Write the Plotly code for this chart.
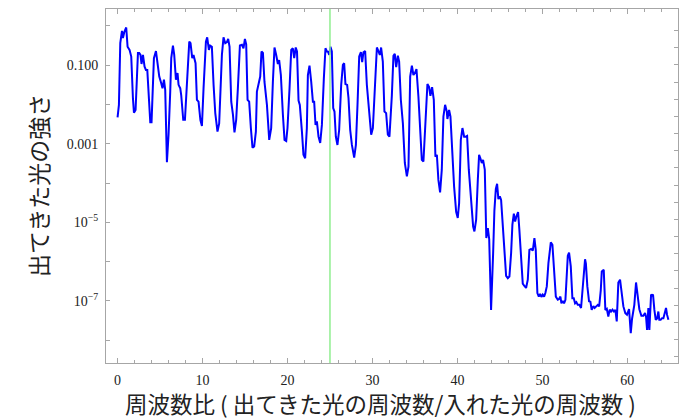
import numpy as np
import plotly.graph_objects as go

# frequency ratio (output / input)
freq_ratio = [
    0.00, 0.16, 0.32, 0.52, 0.63, 0.79, 1.02, 1.18, 1.41, 1.61, 1.81, 1.93, 2.12, 2.40, 2.55, 2.70,
    2.82, 2.99, 3.18, 3.34, 3.50, 3.65, 3.85, 4.00, 4.28, 4.52, 4.71, 4.91, 5.14, 5.29, 5.46, 5.61,
    5.81, 6.00, 6.20, 6.32, 6.52, 6.67, 6.87, 7.06, 7.18, 7.38, 7.49, 7.73, 7.93, 8.16, 8.44, 8.59,
    8.79, 8.94, 9.18, 9.34, 9.53, 9.75, 9.93, 10.12, 10.40, 10.55, 10.75, 10.90, 11.10, 11.30, 11.50,
    11.76, 11.96, 12.28, 12.47, 12.67, 12.87, 13.02, 13.18, 13.38, 13.58, 13.76, 13.96, 14.16, 14.40,
    14.64, 14.82, 14.99, 15.14, 15.30, 15.49, 15.69, 15.88, 16.08, 16.28, 16.40, 16.59, 16.79, 16.94,
    17.11, 17.29, 17.58, 17.85, 18.08, 18.28, 18.47, 18.67, 18.87, 19.02, 19.22, 19.46, 19.65, 19.85,
    20.00, 20.24, 20.44, 20.63, 20.79, 20.97, 21.12, 21.30, 21.45, 21.70, 21.88, 22.08, 22.28, 22.40,
    22.59, 22.79, 22.99, 23.14, 23.30, 23.46, 23.65, 23.85, 24.05, 24.28, 24.47, 24.64, 24.78, 24.91,
    25.06, 25.22, 25.38, 25.53, 25.69, 25.88, 26.08, 26.32, 26.52, 26.67, 26.82, 27.02, 27.18, 27.38,
    27.58, 27.85, 28.05, 28.24, 28.44, 28.64, 28.79, 28.94, 29.14, 29.34, 29.61, 29.85, 30.05, 30.32,
    30.52, 30.71, 30.87, 31.02, 31.22, 31.41, 31.61, 31.81, 32.00, 32.28, 32.47, 32.63, 32.79, 32.99,
    33.14, 33.34, 33.58, 33.81, 34.05, 34.24, 34.44, 34.64, 34.82, 35.02, 35.18, 35.41, 35.61, 35.81,
    36.00, 36.20, 36.47, 36.67, 36.82, 37.02, 37.22, 37.41, 37.58, 37.76, 37.96, 38.16, 38.35, 38.55,
    38.75, 38.82, 39.02, 39.18, 39.38, 39.61, 39.85, 40.04, 40.20, 40.40, 40.59, 40.79, 40.99, 41.14,
    41.34, 41.49, 41.65, 41.85, 42.00, 42.20, 42.40, 42.55, 42.70, 42.87, 43.02, 43.22, 43.40, 43.58,
    43.74, 43.96, 44.20, 44.35, 44.52, 44.67, 44.82, 44.99, 45.14, 45.34, 45.53, 45.73, 45.93, 46.12,
    46.32, 46.47, 46.64, 46.79, 46.94, 47.14, 47.29, 47.49, 47.69, 47.88, 48.08, 48.28, 48.47, 48.67,
    48.87, 49.06, 49.22, 49.41, 49.58, 49.73, 49.88, 50.04, 50.20, 50.35, 50.52, 50.71, 50.99, 51.18,
    51.38, 51.58, 51.81, 51.96, 52.12, 52.24, 52.40, 52.55, 52.71, 52.87, 52.99, 53.14, 53.34, 53.53,
    53.69, 53.85, 54.00, 54.16, 54.35, 54.55, 54.75, 55.02, 55.12, 55.29, 55.49, 55.65, 55.80, 56.00,
    56.15, 56.33, 56.52, 56.68, 56.87, 56.99, 57.22, 57.41, 57.58, 57.76, 57.92, 58.08, 58.25, 58.42,
    58.59, 58.75, 58.94, 59.14, 59.34, 59.53, 59.76, 59.96, 60.20, 60.40, 60.55, 60.70, 60.82, 61.02,
    61.22, 61.41, 61.65, 61.88, 62.08, 62.20, 62.32, 62.47, 62.59, 62.79, 62.90, 63.02, 63.18, 63.34,
    63.50, 63.65, 63.76, 63.92, 64.08, 64.24, 64.40, 64.55, 64.67, 64.83,
]

# log10 of output light intensity
intensity_log10 = [
    -2.33, -2.01, -0.44, -0.13, -0.31, -0.16, -0.04, -0.53, -0.61, -0.78, -1.84, -2.21, -2.14, -0.69, -0.69, -0.74,
    -0.97, -0.74, -1.04, -1.12, -1.12, -1.67, -2.45, -2.45, -0.82, -0.64, -0.95, -1.29, -1.46, -1.59, -1.37, -1.63,
    -3.47, -2.77, -1.67, -0.82, -0.50, -0.74, -1.37, -1.20, -1.50, -1.59, -1.76, -2.39, -2.39, -1.50, -0.40, -0.44,
    -0.82, -0.74, -0.95, -1.88, -1.93, -2.40, -2.55, -1.59, -0.40, -0.29, -0.61, -0.50, -0.53, -1.50, -2.22,
    -2.69, -2.48, -0.74, -0.29, -0.44, -0.41, -0.33, -0.53, -1.93, -2.26, -2.71, -2.39, -1.59, -0.50,
    -0.48, -0.57, -0.33, -0.47, -1.88, -1.93, -2.60, -3.10, -3.07, -2.69, -1.67, -1.46, -1.29, -0.65,
    -0.69, -1.42, -2.01, -2.90, -2.60, -1.42, -0.55, -0.74, -0.97, -0.87, -1.25, -2.26, -2.90, -2.93,
    -2.60, -1.59, -0.61, -0.57, -0.82, -0.55, -0.65, -1.90, -2.01, -2.69, -3.28, -3.37, -2.60, -1.25,
    -1.01, -1.42, -1.93, -1.93, -2.52, -2.43, -2.82, -2.98, -2.52, -1.33, -0.57, -0.65, -0.66, -0.74,
    -0.53, -0.65, -2.09, -2.18, -2.82, -3.03, -2.65, -1.50, -0.99, -0.95, -1.48, -1.50, -1.84, -2.65,
    -3.03, -3.35, -3.03, -2.01, -0.78, -0.67, -0.92, -0.67, -0.64, -1.50, -2.26, -2.77, -2.60, -1.16,
    -0.55, -0.65, -0.74, -0.55, -0.91, -2.18, -2.22, -2.77, -2.82, -1.78, -0.76, -0.71, -1.05, -0.76,
    -0.91, -1.88, -2.48, -3.49, -3.83, -3.58, -1.29, -1.01, -1.25, -1.19, -1.10, -1.80, -2.65, -3.41,
    -3.45, -2.65, -1.48, -1.56, -1.78, -1.56, -1.88, -3.33, -3.28, -3.92, -4.24, -3.66, -2.31, -2.01,
    -2.18, -2.37, -2.14, -2.31, -3.33, -4.09, -4.73, -4.89, -4.51, -2.90, -2.60, -2.82, -2.82, -2.80,
    -3.66, -4.17, -4.51, -5.11, -5.23, -4.94, -3.92, -3.28, -3.37, -3.49, -3.41, -3.66, -5.40, -5.15,
    -5.43, -7.23, -5.80, -4.70, -4.15, -4.02, -4.41, -4.34, -4.43, -5.19, -5.78, -6.36, -6.42, -6.38,
    -5.78, -5.06, -4.78, -4.98, -4.85, -4.74, -5.19, -5.87, -6.56, -6.62, -6.67, -6.46, -5.70, -5.68,
    -5.72, -5.40, -5.70, -6.80, -6.89, -6.82, -6.90, -6.84, -6.89, -6.80, -6.63, -6.04, -5.51, -5.57,
    -6.21, -6.89, -6.97, -6.95, -6.89, -7.06, -7.00, -7.06, -6.97, -6.29, -5.85, -5.77, -6.12, -6.93,
    -6.93, -7.06, -7.03, -7.10, -7.10, -7.18, -6.60, -5.94, -6.05, -6.63, -7.01, -7.02, -7.23, -7.13,
    -7.18, -7.13, -7.10, -7.14, -6.73, -6.25, -6.21, -7.23, -7.20, -7.40, -7.22, -7.27, -7.22, -7.27,
    -7.23, -7.52, -6.53, -6.46, -6.80, -7.14, -7.31, -7.35, -7.21, -7.82, -7.46, -7.20, -7.10, -6.53,
    -6.89, -7.21, -7.38, -7.38, -7.31, -7.40, -7.74, -7.18, -7.74, -6.84, -6.86, -6.84, -7.23, -7.48,
    -7.45, -7.27, -7.48, -7.48, -7.44, -7.44, -7.31, -7.18, -7.35, -7.48,
]

marker_ratio = 25
y_tick_vals = [0.1, 0.001, 1e-5, 1e-7]
y_tick_text = ["0.100", "0.001", "10<sup>\u22125</sup>", "10<sup>\u22127</sup>"]
y_minor_vals = [1, 0.01, 1e-4, 1e-6, 1e-8]
x_tick_vals = [0, 10, 20, 30, 40, 50, 60]

intensity = np.power(10.0, np.array(intensity_log10))

XR = [-1.36, 65.96]
YR = [-8.58, 0.43]
FRAME = "#a6a6a6"
L, R, T, B = 106, 7, 9, 55
PW, PH = 685 - L - R, 418 - T - B

fig = go.Figure()
fig.add_trace(go.Scatter(x=freq_ratio, y=intensity, mode="lines",
                         line=dict(color="#0000ff", width=2), showlegend=False,
                         hoverinfo="skip"))
fig.add_trace(go.Scatter(x=[marker_ratio, marker_ratio], y=[10 ** YR[0], 10 ** YR[1]],
                         mode="lines", line=dict(color="#90ee90", width=1.5),
                         showlegend=False, hoverinfo="skip"))

# right-side frame ticks (Mathematica style mirrored ticks)
right_ticks = list(np.arange(-0.12, YR[0], -0.437))

fig.update_layout(
    width=685, height=418,
    margin=dict(l=L, r=R, t=T, b=B, autoexpand=False),
    paper_bgcolor="white", plot_bgcolor="white",
    xaxis=dict(range=XR, showgrid=False, zeroline=False, automargin=False,
               showline=True, linecolor=FRAME, linewidth=1, mirror="ticks",
               ticks="inside", ticklen=5, tickcolor=FRAME, tickwidth=1,
               tickvals=x_tick_vals,
               minor=dict(ticks="inside", ticklen=3, tickcolor=FRAME, dtick=2, showgrid=False),
               tickfont=dict(family="Liberation Serif", size=14, color="#222"),
               ticklabelstandoff=4),
    yaxis=dict(type="log", range=YR, showgrid=False, zeroline=False, automargin=False,
               showline=True, linecolor=FRAME, linewidth=1, mirror=True,
               ticks="inside", ticklen=4, tickcolor=FRAME, tickwidth=1,
               tickvals=y_tick_vals, ticktext=y_tick_text,
               minor=dict(ticks="inside", ticklen=4, tickcolor=FRAME, tickmode="array",
                          tickvals=y_minor_vals, showgrid=False),
               tickfont=dict(family="Liberation Serif", size=14, color="#222"),
               ticklabelstandoff=4),
    yaxis2=dict(overlaying="y", side="right", range=YR, showgrid=False, zeroline=False,
                automargin=False, showline=False, ticks="inside", ticklen=4, tickcolor=FRAME,
                tickvals=right_ticks, showticklabels=False),
    annotations=[
        dict(text="出てきた光の強さ", xref="paper", yref="paper", x=(38 - L) / PW,
             y=0.5, textangle=-90, showarrow=False, xanchor="center", yanchor="middle",
             font=dict(family="Noto Sans CJK JP", size=23, color="#222")),
        dict(text="周波数比 ( 出てきた光の周波数/入れた光の周波数 )", xref="paper", yref="paper",
             x=(380 - L) / PW, y=(418 - B - 402.5) / PH, showarrow=False,
             xanchor="center", yanchor="middle",
             font=dict(family="Noto Sans CJK JP", size=22.5, color="#222")),
    ],
)
fig.add_trace(go.Scatter(x=[None], y=[None], yaxis="y2", showlegend=False))

fig.write_html("out.html", config={"displayModeBar": False},
               post_script="document.body.style.margin='0px';")
